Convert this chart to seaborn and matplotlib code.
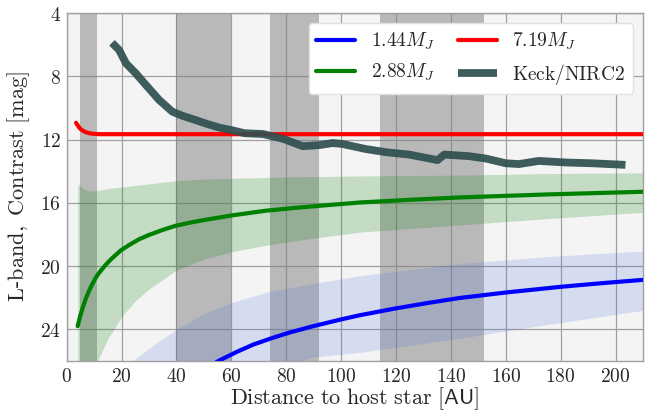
import numpy as np
import pandas as pd
import seaborn as sns
import matplotlib
matplotlib.use("Agg")
import matplotlib.pyplot as plt
from matplotlib.ticker import FuncFormatter

# ---------------- data ----------------
bands = [(5, 11), (40, 60), (74, 92), (114, 152)]

blue_x = [50, 55.7, 62, 68, 75, 81.2, 90, 100, 106.7, 120, 132, 143, 160, 180, 195, 210]
blue_y = [26.52, 25.96, 25.42, 24.96, 24.54, 24.20, 23.79, 23.37, 23.11, 22.67, 22.32,
          22.02, 21.67, 21.31, 21.08, 20.87]

green_x = [4, 5, 6, 7, 8, 9, 10.7, 12, 14, 16, 19.75, 23, 26.4, 30, 35, 39.7, 45, 50,
           60, 72.5, 85, 106.7, 125, 143, 175, 210]
green_y = [23.8, 23.10, 22.53, 22.04, 21.62, 21.25, 20.70, 20.38, 19.96, 19.59, 19.00,
           18.64, 18.30, 18.03, 17.71, 17.45, 17.25, 17.09, 16.80, 16.50, 16.29, 15.98,
           15.81, 15.66, 15.47, 15.30]

red_x = [3.4, 4, 4.6, 5.2, 6.5, 8.2, 10, 12, 20, 210]
red_y = [10.94, 11.1, 11.25, 11.36, 11.5, 11.6, 11.64, 11.66, 11.66, 11.66]

keck_x = [16.5, 19.1, 21.6, 25.2, 29.4, 33.7, 38.5, 42.2, 47, 50.9, 55.7, 60, 64.8, 71.5,
          78.8, 86, 92.1, 96.9, 100.5, 109, 116.4, 124.8, 135.1, 137.6, 146.6, 152.7,
          160, 164.8, 172, 181.8, 191.5, 203.6]
keck_y = [5.88, 6.34, 7.18, 7.82, 8.66, 9.5, 10.24, 10.5, 10.77, 11.0, 11.25, 11.4, 11.6,
          11.65, 11.95, 12.42, 12.35, 12.22, 12.28, 12.6, 12.8, 12.95, 13.3, 12.95, 13.05,
          13.2, 13.5, 13.55, 13.35, 13.45, 13.5, 13.6]

gband_x = [4, 6, 8, 10, 12, 15, 20, 25, 30, 40, 50, 60, 72, 85, 107, 143, 175, 210]
gband_hi = [14.78, 15.1, 15.25, 15.25, 15.2, 15.1, 15.0, 14.9, 14.8, 14.6, 14.5, 14.45,
            14.4, 14.35, 14.3, 14.25, 14.15, 14.1]
gband_lo = [30, 29, 27.7, 26.5, 25.7, 24.6, 23.2, 22.2, 21.45, 20.25, 19.55, 19.1, 18.7,
            18.35, 17.85, 17.4, 17.0, 16.6]

bband_x = [24, 30, 34, 40, 50, 60, 74, 90, 107, 143, 175, 210]
bband_hi = [26.0, 25.2, 24.7, 24.0, 23.0, 22.3, 21.6, 21.1, 20.6, 19.85, 19.4, 19.04]
bband_lo = [32, 31, 30.5, 29.8, 28.6, 27.7, 26.6, 25.75, 25.45, 24.57, 23.7, 22.8]

labels = [r'$\mathsf{1.44}M_J$', r'$\mathsf{2.88}M_J$', r'$\mathsf{7.19}M_J$',
          r'$\mathrm{Keck/NIRC2}$']
xticks = list(range(0, 201, 20))
yticks = [4, 8, 12, 16, 20, 24]

# ---------------- style ----------------
sns.set_style("whitegrid", {"axes.facecolor": "#f4f4f4", "grid.color": "#a0a0a0",
                            "axes.edgecolor": "#a0a0a0"})
plt.rcParams["mathtext.fontset"] = "cm"
plt.rcParams["axes.formatter.use_mathtext"] = True

fig = plt.figure(figsize=(6.49, 4.12), dpi=100)
ax = fig.add_axes([0.1028, 0.1238, 0.888, 0.8446])

for a, b in bands:
    ax.axvspan(a, b, color="grey", alpha=0.5, lw=0, zorder=1)

ax.fill_between(gband_x, gband_hi, gband_lo, color="green", alpha=0.2, lw=0, zorder=2)
ax.fill_between(bband_x, bband_hi, bband_lo, color="royalblue", alpha=0.17, lw=0, zorder=2)

common = dict(sort=False, estimator=None, ax=ax, solid_joinstyle="round")
sns.lineplot(x=blue_x, y=blue_y, color="blue", lw=3, label=labels[0], zorder=3, **common)
sns.lineplot(x=green_x, y=green_y, color="green", lw=3, label=labels[1], zorder=3, **common)
sns.lineplot(x=red_x, y=red_y, color="red", lw=3, label=labels[2], zorder=3, **common)
sns.lineplot(x=keck_x, y=keck_y, color="#2f4f4f", alpha=0.92, lw=5.6, label=labels[3],
             zorder=4, solid_capstyle="butt", **common)

ax.set_xlim(0, 210)
ax.set_ylim(26, 4)
ax.set_xticks(xticks)
ax.set_yticks(yticks)
fmt = FuncFormatter(lambda v, p: r'$\mathsf{%d}$' % int(round(v)))
ax.xaxis.set_major_formatter(fmt)
ax.yaxis.set_major_formatter(fmt)
ax.tick_params(labelsize=14, length=0, pad=4)
ax.grid(True, color="#a0a0a0", lw=0.9)
for s in ax.spines.values():
    s.set_color("#a0a0a0")
    s.set_linewidth(1)

ax.set_xlabel(r'$\mathrm{Distance\ to\ host\ star\ [}\mathsf{AU}\mathrm{]}$', fontsize=16,
              labelpad=0)
ax.set_ylabel(r'$\mathrm{L}$-$\mathrm{band,\ Contrast\ [mag]}$', fontsize=16, labelpad=6)

leg = ax.legend(loc="upper right", ncol=2, fontsize=14, frameon=True, framealpha=1,
                facecolor="white", edgecolor="#e0e0e0", columnspacing=1.2,
                handlelength=2.0)

fig.savefig("out.png", dpi=100)
